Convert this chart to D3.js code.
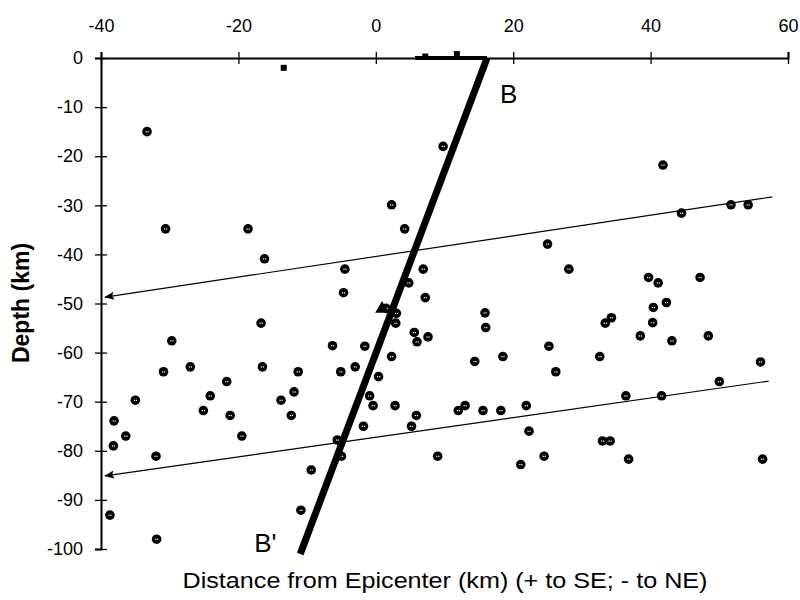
<!DOCTYPE html>
<html>
<head>
<meta charset="utf-8">
<script src="https://cdnjs.cloudflare.com/ajax/libs/d3/7.8.5/d3.min.js"></script>
<style>
  body { margin: 0; background: #fff; }
  svg { display: block; }
  .tick text { font-family: "Liberation Sans", Arial, sans-serif; font-size: 18px; fill: #000; }
</style>
</head>
<body>
<svg width="800" height="600"></svg>
<script>
// Hypocenters: distance from epicenter (km) and depth (km).
const distance = [-33.3, 9.8, 41.8, 2.3, 51.7, 54.2, 44.5, -30.6, -18.6, 4.2,
    25.0, -16.2, -4.5, 6.9, 28.1, 39.7, 47.2, 41.1, 4.8, -4.7,
    7.2, 42.3, 40.4, 1.5, 15.9, 3.0, 34.3, -16.7, 2.9, 33.4,
    40.3, 16.0, 5.6, 7.6, 38.5, 48.4, -29.7, 6.0, 43.1, -6.3,
    -1.6, 25.2, 2.3, 18.5, 32.6, 14.4, 56.0, -27.0, -16.5, -3.0,
    -30.9, -11.3, -5.1, 26.2, 0.4, -21.7, 50.0, -11.9, -24.1, -0.9,
    36.4, 41.6, -35.0, -13.8, -0.4, 2.8, 13.0, 21.9, -25.1, 12.0,
    15.6, 18.2, -21.2, -12.3, 5.9, -38.1, -1.8, 5.2, 22.3, -36.4,
    -19.5, -5.6, 33.0, 34.1, -38.2, -32.0, -5.0, 9.0, 24.5, 36.8,
    56.3, 21.1, -9.4, -10.9, -38.7, -31.9];
const depth = [-15, -18, -21.8, -29.9, -29.9, -29.9, -31.6, -34.8, -34.8, -34.8,
    -37.9, -40.9, -43.0, -43.0, -43.0, -44.7, -44.7, -45.8, -45.8, -47.8,
    -48.8, -49.8, -50.8, -51.0, -51.9, -52.0, -52.9, -54.0, -54.0, -54.0,
    -53.9, -54.9, -55.9, -56.8, -56.6, -56.6, -57.6, -57.8, -57.6, -58.6,
    -58.7, -58.7, -60.8, -60.8, -60.8, -61.8, -61.9, -62.9, -62.9, -62.9,
    -63.9, -63.9, -63.9, -63.9, -64.9, -65.9, -65.9, -68.0, -68.8, -68.8,
    -68.8, -68.8, -69.7, -69.7, -70.8, -70.8, -70.8, -70.8, -71.8, -71.8,
    -71.8, -71.8, -72.8, -72.8, -72.8, -73.9, -75.0, -75.0, -76.0, -77.0,
    -77.0, -77.8, -78.0, -78.0, -79.0, -81.1, -81.1, -81.1, -81.1, -81.7,
    -81.7, -82.8, -83.9, -92.1, -93.1, -98.0];

// Square markers (shallow events).
const squareX = [-13.4, 7.2, 11.8];
const squareY = [-2, 0.3, 0.8];

// Epicenter triangle.
const epiX = [0.9];
const epiY = [-51.1];

// Fault trace B - B' and its surface segment.
const faultX = [16.2, -11.0];
const faultY = [0, -101];
const surfaceX = [5.7, 16.2];
const surfaceY = [0, 0];

// Two thin reference lines with arrowheads at the left end.
const upperX = [-39.4, 57.7];
const upperY = [-48.7, -28.3];
const lowerX = [-39.4, 57.2];
const lowerY = [-85.1, -65.8];

// Tick labels.
const xTicks = [-40, -20, 0, 20, 40, 60];
const yTicks = [0, -10, -20, -30, -40, -50, -60, -70, -80, -90, -100];

const svg = d3.select("svg");

const xScale = d3.scaleLinear().domain([-40, 60]).range([101, 788]);
const yScale = d3.scaleLinear().domain([0, -100]).range([58, 549]);

// Arrowhead marker.
svg.append("defs").append("marker")
    .attr("id", "arrow")
    .attr("viewBox", "0 0 10 10")
    .attr("refX", 9).attr("refY", 5)
    .attr("markerWidth", 10).attr("markerHeight", 10)
    .attr("markerUnits", "userSpaceOnUse")
    .attr("orient", "auto-start-reverse")
    .append("path")
    .attr("d", "M0,1 L10,5 L0,9 L2,5 Z")
    .attr("fill", "#000");

// Axes.
const xAxis = svg.append("g")
    .attr("transform", `translate(0, ${yScale(0)})`)
    .call(d3.axisTop(xScale).tickValues(xTicks).tickFormat(d => String(d)).tickSizeOuter(0).tickSize(6));
xAxis.selectAll(".tick line").attr("y1", -6).attr("y2", 6).attr("stroke-width", 1.3);
xAxis.selectAll(".tick text").attr("y", -26);
xAxis.select(".domain").attr("stroke-width", 2);

const yAxis = svg.append("g")
    .attr("transform", `translate(${xScale(-40)}, 0)`)
    .call(d3.axisLeft(yScale).tickValues(yTicks).tickFormat(d => String(d)).tickSizeOuter(0).tickSize(6));
yAxis.selectAll(".tick line").attr("x1", -6).attr("x2", 6).attr("stroke-width", 1.3);
yAxis.selectAll(".tick text").attr("x", -18);
yAxis.select(".domain").attr("stroke-width", 2);

const line = d3.line().x(d => xScale(d[0])).y(d => yScale(d[1]));

// Thin lines.
[[upperX, upperY], [lowerX, lowerY]].forEach(([xs, ys]) => {
    svg.append("path")
        .attr("d", line(d3.zip(xs, ys)))
        .attr("fill", "none")
        .attr("stroke", "#000")
        .attr("stroke-width", 1.2)
        .attr("marker-start", "url(#arrow)");
});

// Hypocenter points.
const pts = svg.append("g").selectAll("g")
    .data(d3.zip(distance, depth))
    .enter()
    .append("g")
    .attr("transform", d => `translate(${xScale(d[0])}, ${yScale(d[1])})`);
pts.append("circle").attr("r", 4.8).attr("fill", "#000");
pts.append("rect").attr("x", -1.5).attr("y", -0.5).attr("width", 1.2).attr("height", 1.2).attr("fill", "#fff");
pts.append("rect").attr("x", 0.5).attr("y", -0.5).attr("width", 1.2).attr("height", 1.2).attr("fill", "#fff");

// Fault trace.
svg.append("path")
    .attr("d", line(d3.zip(surfaceX, surfaceY)))
    .attr("stroke", "#000").attr("stroke-width", 4).attr("fill", "none");
svg.append("path")
    .attr("d", line(d3.zip(faultX, faultY)))
    .attr("stroke", "#000").attr("stroke-width", 7).attr("fill", "none");

// Squares.
svg.append("g").selectAll("rect")
    .data(d3.zip(squareX, squareY))
    .enter()
    .append("rect")
    .attr("x", d => xScale(d[0]) - 3)
    .attr("y", d => yScale(d[1]) - 3)
    .attr("width", 6).attr("height", 6)
    .attr("fill", "#000");

// Epicenter.
svg.append("g").selectAll("path")
    .data(d3.zip(epiX, epiY))
    .enter()
    .append("path")
    .attr("transform", d => `translate(${xScale(d[0])}, ${yScale(d[1])})`)
    .attr("d", d3.symbol(d3.symbolTriangle, 80))
    .attr("fill", "#000");

// B and B' labels.
svg.append("text")
    .attr("x", xScale(faultX[0]) + 13).attr("y", yScale(faultY[0]) + 45)
    .attr("font-family", "Liberation Sans, Arial, sans-serif")
    .attr("font-size", 26)
    .text("B");
svg.append("text")
    .attr("x", xScale(faultX[1]) - 46).attr("y", yScale(faultY[1]) - 2)
    .attr("font-family", "Liberation Sans, Arial, sans-serif")
    .attr("font-size", 26)
    .text("B'");

// Axis titles.
svg.append("text")
    .attr("x", 445).attr("y", 588)
    .attr("text-anchor", "middle")
    .attr("font-family", "Liberation Sans, Arial, sans-serif")
    .attr("font-size", 22)
    .attr("textLength", 525)
    .attr("lengthAdjust", "spacingAndGlyphs")
    .text("Distance from Epicenter (km) (+ to SE; - to NE)");
svg.append("text")
    .attr("transform", "translate(29, 303) rotate(-90)")
    .attr("text-anchor", "middle")
    .attr("font-family", "Liberation Sans, Arial, sans-serif")
    .attr("font-weight", "bold")
    .attr("font-size", 23)
    .text("Depth (km)");
</script>
</body>
</html>
